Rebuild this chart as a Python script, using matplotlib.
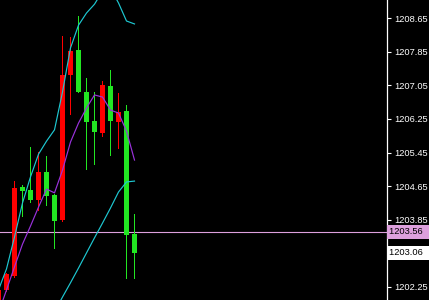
import numpy as np
import matplotlib
matplotlib.use("Agg")
import matplotlib.pyplot as plt

# bars (index -1 is the one cut by the left edge)
bar_idx = list(range(-1, 17))
opens  = [1201.89, 1202.18, 1202.51, 1204.63, 1204.56, 1204.32, 1204.99, 1204.44, 1203.84,
          1207.29, 1207.89, 1206.89, 1206.20, 1205.91, 1207.03, 1206.18, 1206.44, 1203.51]
highs  = [1202.19, 1202.58, 1204.77, 1204.68, 1205.58, 1205.46, 1205.37, 1204.46, 1208.22,
          1208.20, 1208.70, 1207.22, 1206.89, 1207.15, 1207.41, 1206.87, 1206.58, 1203.99]
lows   = [1201.82, 1202.13, 1202.46, 1203.92, 1204.25, 1204.06, 1204.18, 1203.15, 1203.80,
          1206.34, 1206.87, 1205.03, 1205.15, 1205.82, 1205.37, 1205.53, 1202.44, 1202.44]
closes = [1202.18, 1202.56, 1204.61, 1204.53, 1204.32, 1204.99, 1204.42, 1203.82, 1207.29,
          1207.87, 1206.89, 1206.18, 1205.94, 1207.06, 1206.20, 1206.41, 1203.49, 1203.06]

nan = np.nan
ma_upper = [1202.18, 1202.68, 1203.44, 1204.25, 1204.87, 1205.41, 1205.72, 1205.99, 1206.89,
            1207.94, 1208.48, 1208.77, 1208.98, 1209.29, 1209.36, 1209.01, 1208.58, 1208.51]
ma_mid   = [1201.63, 1202.18, 1202.73, 1203.27, 1203.70, 1204.15, 1204.58, 1204.49, 1205.03,
            1205.70, 1206.15, 1206.51, 1206.82, 1206.77, 1206.46, 1206.39, 1205.96, 1205.27]
ma_lower = [nan, nan, nan, nan, nan, nan, nan, 1201.66, 1202.01,
            1202.35, 1202.70, 1203.06, 1203.42, 1203.77, 1204.13, 1204.51, 1204.75, 1204.77]

price_ticks = [1208.65, 1207.85, 1207.05, 1206.25, 1205.45, 1204.65, 1203.85, 1203.05, 1202.25]
ask_price = 1203.56
bid_price = 1203.06

BULL = "#ff0000"
BEAR = "#22e622"

fig = plt.figure(figsize=(4.29, 3.00), dpi=100, facecolor="black")
ax = fig.add_axes([0, 0, 387 / 429, 1])
ax.set_facecolor("black")

x = np.array(bar_idx, dtype=float)
o = np.array(opens); c = np.array(closes)
hi = np.array(highs); lo = np.array(lows)
cols = [BULL if cc >= oo else BEAR for oo, cc in zip(o, c)]
# wicks as 1px bars so they land on whole pixels (8px per bar slot)
ax.bar(x, hi - lo, bottom=lo, width=0.125, color=cols, linewidth=0, zorder=2)
ax.bar(x, np.abs(c - o), bottom=np.minimum(o, c), width=0.625, color=cols,
       linewidth=0, zorder=3)

ax.plot(x, ma_upper, color="#1ec8d2", lw=0.85, zorder=4)
ax.plot(x, ma_lower, color="#1ec8d2", lw=0.85, zorder=4)
ax.plot(x, ma_mid, color="#9a32dc", lw=0.85, zorder=4)

ax.axhline(ask_price, color="#dda0dd", lw=0.8, zorder=1)

ax.set_xlim(-0.8125, 47.5625)
ax.set_ylim(1201.94, 1209.08)

for s in ("top", "left", "bottom"):
    ax.spines[s].set_visible(False)
ax.spines["right"].set_color("white")
ax.spines["right"].set_linewidth(0.9)
ax.set_xticks([])
ax.yaxis.tick_right()
ax.set_yticks(price_ticks)
# the 1203.05 label sits under the bid box, so only its tick mark shows
ax.set_yticklabels(["" if abs(p - bid_price) < 0.05 else "%.2f" % p for p in price_ticks])
ax.tick_params(axis="y", colors="white", direction="out", length=3, width=0.8,
               labelsize=6.7, pad=2)
for lab in ax.get_yticklabels():
    lab.set_fontfamily("Liberation Sans")

ytf = ax.get_yaxis_transform()
ax.text(1.005, ask_price, "%.2f  " % ask_price, transform=ytf, va="center", ha="left",
        fontsize=6.7, family="Liberation Sans", color="black", zorder=10,
        bbox=dict(boxstyle="square,pad=0.25", fc="#dda0dd", ec="none"))
ax.text(1.005, bid_price, "%.2f  " % bid_price, transform=ytf, va="center", ha="left",
        fontsize=6.7, family="Liberation Sans", color="black", zorder=10,
        bbox=dict(boxstyle="square,pad=0.25", fc="white", ec="none"))

fig.savefig("out.png", dpi=100, facecolor="black")
